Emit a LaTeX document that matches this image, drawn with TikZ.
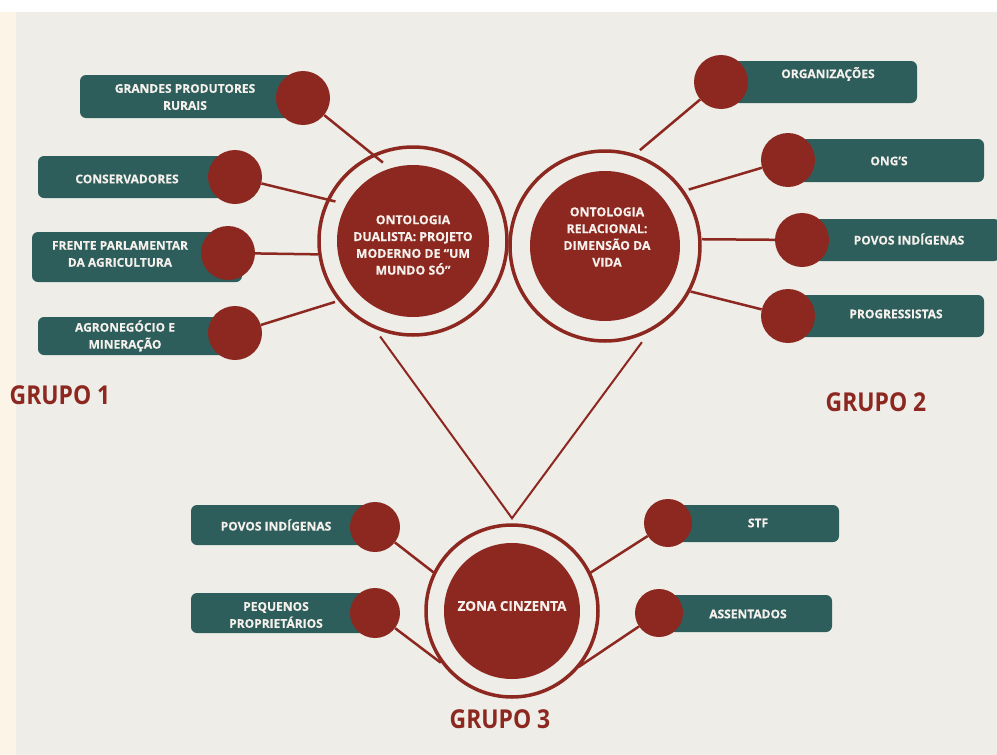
\documentclass[tikz,border=0pt]{standalone}
\usepackage{fontspec}
\setmainfont{Open Sans}[BoldFeatures={FakeBold=0.4}]
\newfontfamily\grupofont{Open Sans}[FakeStretch=0.88]
\definecolor{paper}{RGB}{238,237,232}
\definecolor{cream}{RGB}{252,244,230}
\definecolor{brick}{RGB}{140,40,32}
\definecolor{slate}{RGB}{45,94,92}
\definecolor{ink}{RGB}{245,240,235}
\begin{document}
\begin{tikzpicture}[x=1pt,y=-1pt,
  ring/.style={circle,draw=brick,line width=3.5pt,minimum size=#1,inner sep=0pt},
  core/.style={circle,fill=brick,minimum size=#1,inner sep=0pt},
  coretext/.style={text=ink,font=\bfseries\fontsize{12.3}{16.8}\selectfont,align=center,inner sep=0pt},
  tag/.style={rounded corners=6pt,fill=slate,inner sep=0pt},
  tagtext/.style={text=ink,font=\bfseries\fontsize{12}{17}\selectfont,align=center,inner sep=0pt},
  bead/.style={circle,fill=brick,minimum size=#1,inner sep=0pt},
  link/.style={draw=brick,line width=2.5pt},
  grupo/.style={text=brick,font=\grupofont\bfseries\fontsize{26}{26}\selectfont,inner sep=0pt}]
  \useasboundingbox (0,0) rectangle (997,755);
  \fill[white] (0,0) rectangle (997,755);
  \fill[cream] (0,12) rectangle (16,755);
  \fill[paper] (16,12) rectangle (997,755);

  \node[ring=188pt] (dual) at (413,241) {};
  \node[core=152pt] (dualcore) at (dual) {};
  \node[coretext] (dualtext) at (413,245) {ONTOLOGIA\\DUALISTA: PROJETO\\MODERNO DE “UM\\MUNDO SÓ”};

  \node[ring=190pt] (rel) at (605,246) {};
  \node[core=150pt] (relcore) at (rel) {};
  \node[coretext] (reltext) at (607,237) {ONTOLOGIA\\RELACIONAL:\\DIMENSÃO DA\\VIDA};

  \node[ring=172pt] (zona) at (512,611) {};
  \node[core=136pt] (zonacore) at (zona) {};
  \node[coretext,font=\bfseries\fontsize{13.5}{16}\selectfont] (zonatext) at (512,606) {ZONA CINZENTA};

  \node[tag,minimum width=220pt,minimum height=43pt] (grandes) at (190,96.5) {};
  \node[tagtext] (grandestext) at (185,97) {GRANDES PRODUTORES\\RURAIS};
  \node[bead=54pt] (grandesdot) at (303,98) {};
  \node[tag,minimum width=202pt,minimum height=42pt] (conserv) at (139,177) {};
  \node[tagtext] (conservtext) at (127,179) {CONSERVADORES};
  \node[bead=54pt] (conservdot) at (235,177) {};
  \node[tag,minimum width=210pt,minimum height=50pt] (frente) at (137,257) {};
  \node[tagtext] (frentetext) at (120,254) {FRENTE PARLAMENTAR\\DA AGRICULTURA};
  \node[bead=54pt] (frentedot) at (228,253) {};
  \node[tag,minimum width=202pt,minimum height=38pt] (agro) at (139,336) {};
  \node[tagtext] (agrotext) at (125,336) {AGRONEGÓCIO E\\MINERAÇÃO};
  \node[bead=54pt] (agrodot) at (235,333) {};

  \node[tag,minimum width=196pt,minimum height=42pt] (org) at (819,82) {};
  \node[tagtext] (orgtext) at (828,74) {ORGANIZAÇÕES};
  \node[bead=54pt] (orgdot) at (721,82) {};
  \node[tag,minimum width=196pt,minimum height=43pt] (ong) at (886,160.5) {};
  \node[tagtext] (ongtext) at (889,161) {ONG’S};
  \node[bead=54pt] (ongdot) at (788,160) {};
  \node[tag,minimum width=198pt,minimum height=42pt] (povosb) at (901,240) {};
  \node[tagtext] (povosbtext) at (909,239) {POVOS INDÍGENAS};
  \node[bead=54pt] (povosbdot) at (802,240) {};
  \node[tag,minimum width=196pt,minimum height=42pt] (prog) at (886,316) {};
  \node[tagtext] (progtext) at (896,314) {PROGRESSISTAS};
  \node[bead=54pt] (progdot) at (788,316) {};

  \node[tag,minimum width=184pt,minimum height=40pt] (povosc) at (283,525) {};
  \node[tagtext] (povosctext) at (276,525) {POVOS INDÍGENAS};
  \node[bead=50pt] (povoscdot) at (375,527) {};
  \node[tag,minimum width=184pt,minimum height=40pt] (pequenos) at (283,613) {};
  \node[tagtext] (pequenostext) at (276,615) {PEQUENOS\\PROPRIETÁRIOS};
  \node[bead=50pt] (pequenosdot) at (375,613) {};
  \node[tag,minimum width=171pt,minimum height=37pt] (stf) at (753.5,523.5) {};
  \node[tagtext] (stftext) at (758,523) {STF};
  \node[bead=48pt] (stfdot) at (668,523) {};
  \node[tag,minimum width=173pt,minimum height=37pt] (assent) at (745.5,613.5) {};
  \node[tagtext] (assenttext) at (748,614) {ASSENTADOS};
  \node[bead=48pt] (assentdot) at (659,613) {};

  \draw[link] (grandesdot) -- ([shift={(111:84pt)}]dual.center);
  \draw[link] (conservdot) -- ([shift={(153:87pt)}]dual.center);
  \draw[link] (frentedot) -- ([shift={(188:96pt)}]dual.center);
  \draw[link] (agrodot) -- ([shift={(218:99pt)}]dual.center);

  \draw[link] (orgdot) -- ([shift={(70:102pt)}]rel.center);
  \draw[link] (ongdot) -- ([shift={(34:101pt)}]rel.center);
  \draw[link] (povosbdot) -- ([shift={(4:97pt)}]rel.center);
  \draw[link] (progdot) -- ([shift={(-28:97pt)}]rel.center);

  \draw[link] (povoscdot) -- ([shift={(154:86pt)}]zona.center);
  \draw[link] (pequenosdot) -- ([shift={(216:88pt)}]zona.center);
  \draw[link] (stfdot) -- ([shift={(26:87pt)}]zona.center);
  \draw[link] (assentdot) -- ([shift={(-40:87pt)}]zona.center);

  \coordinate (tip) at ([yshift=5pt]zona.north);
  \draw[link,line width=2pt] ([shift={(251:101pt)}]dual.center) -- (tip) -- ([shift={(291:103pt)}]rel.center);

  \node[grupo] (grupoa) at (60,395) {GRUPO 1};
  \node[grupo] (grupob) at (876,402) {GRUPO 2};
  \node[grupo] (grupoc) at (500,719) {GRUPO 3};
\end{tikzpicture}
\end{document}
